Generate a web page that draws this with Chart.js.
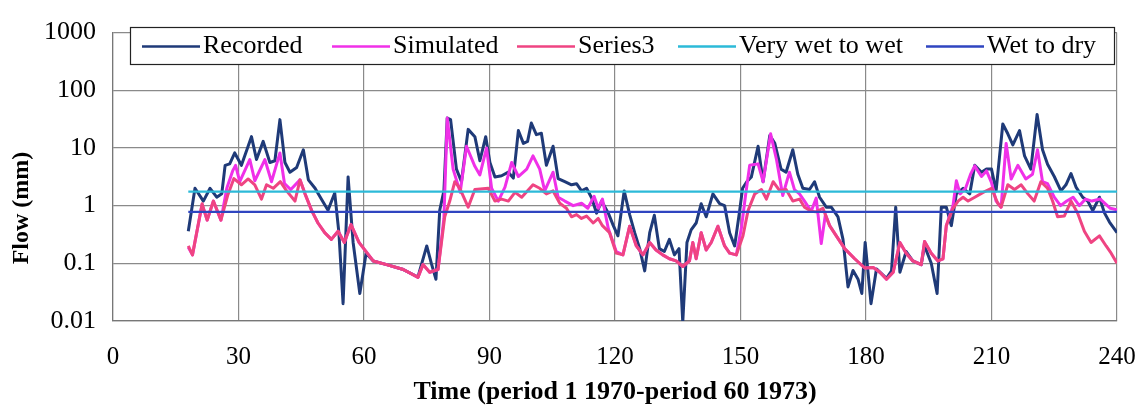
<!DOCTYPE html>
<html>
<head>
<meta charset="utf-8">
<script src="https://cdn.jsdelivr.net/npm/chart.js@4.4.0/dist/chart.umd.min.js"></script>
<style>
  html, body { margin: 0; padding: 0; background: #fff; }
  #wrap { width: 1143px; height: 414px; }
</style>
</head>
<body>
<div id="wrap"><canvas id="flowChart" width="1143" height="414"></canvas></div>
<script>
// Flow series, [time period, flow in mm]
const recorded = [[18,0.36],[19.6,2.0],[21.6,1.2],[23.2,2.0],[24.8,1.4],[26,1.6],[26.8,5],[27.9,5.3],[29.1,8.2],[30.7,5],[33.1,15.7],[34.3,6.3],[35.9,13],[37.5,5.6],[38.7,6],[39.9,31],[41.1,5.6],[42.3,3.8],[43.9,4.6],[45.5,9.3],[46.7,2.8],[48.3,2.0],[49.8,1.3],[51.4,0.83],[53,1.66],[54,0.34],[55,0.02],[56.2,3.15],[57.4,0.23],[59,0.03],[60.5,0.15],[62.2,0.11],[65.4,0.095],[69.4,0.078],[72.9,0.058],[75,0.2],[76.1,0.1],[77.2,0.053],[78.1,0.83],[79.1,1.8],[79.9,33],[80.7,31],[82.1,4.3],[83.3,2.6],[84.9,21],[86.5,15.7],[87.7,6],[89.1,15.7],[90.1,5.6],[91.3,3.15],[92.9,3.3],[94.5,3.8],[95.7,3],[96.9,20],[98.1,12],[99.1,13],[100,27],[101.2,17],[102.4,18],[103.6,5],[105.2,10.7],[106.4,2.95],[108,2.6],[109.6,2.3],[110.8,2.4],[112,1.8],[113.2,2.0],[114.4,1.37],[115.6,0.74],[116.8,1.2],[118.4,0.74],[119.6,0.45],[120.7,0.3],[122.2,1.8],[123.5,0.7],[124.7,0.34],[125.9,0.18],[127.1,0.074],[128.3,0.34],[129.4,0.68],[130.6,0.18],[131.8,0.16],[133,0.26],[134.2,0.14],[135.3,0.18],[136.2,0.0095],[137.2,0.23],[138.2,0.38],[139.4,0.5],[140.6,1.08],[141.8,0.64],[143.4,1.6],[145,1.08],[146.2,1.0],[147.4,0.34],[148.6,0.2],[149.8,0.82],[150.5,2.0],[151.5,2.6],[152.6,3.15],[154.2,10.7],[155.4,2.6],[157,16.5],[158.2,12],[159.7,4.3],[160.9,3.8],[162.5,9.3],[163.7,3.5],[164.9,2.0],[166.5,1.9],[167.7,2.6],[168.9,1.4],[170.5,0.94],[171.7,0.94],[173.3,0.64],[174.5,0.26],[175.7,0.039],[176.9,0.075],[178.1,0.053],[179,0.03],[179.8,0.23],[181.2,0.02],[182.5,0.08],[184.9,0.055],[186.1,0.074],[187.1,0.94],[188.1,0.07],[189.6,0.16],[191.2,0.11],[193.2,0.095],[194,0.2],[195.6,0.1],[197,0.03],[198,0.94],[199.2,0.94],[200.4,0.45],[201.6,1.6],[203.2,2.0],[204.8,1.6],[206,5],[207.6,3.8],[208.8,4.3],[210,4.3],[211.1,1.8],[212.7,26],[213.9,17.6],[215.1,11.3],[216.7,20],[217.9,7.3],[219.4,4.3],[220.9,38],[222.2,9.3],[223.4,5.2],[225,3.2],[226.6,1.8],[227.8,2.3],[229,3.6],[230.2,2.1],[231.8,1.4],[233,1.2],[234.2,0.82],[235.8,1.4],[237,0.75],[238.2,0.52],[240,0.34]];

const simulated = [[18,0.19],[19,0.14],[21.3,1.05],[22.5,0.56],[24,1.2],[25.8,0.56],[27.2,2.0],[28.6,4.0],[29.3,5.0],[30.3,2.6],[32.7,6.3],[33.9,2.7],[36.3,6.3],[37.9,2.6],[39.9,8.2],[41,2.4],[42.5,1.9],[44.7,2.8],[45.9,1.6],[47.5,0.82],[49,0.5],[50.6,0.34],[52.2,0.26],[53.8,0.36],[55.3,0.23],[56.9,0.47],[58.8,0.23],[62.2,0.11],[65.4,0.095],[69.4,0.078],[72.9,0.057],[74.1,0.095],[75.7,0.07],[77.7,0.078],[79.1,0.6],[79.9,33],[81.3,4.3],[83,1.7],[84.5,10.7],[86.5,4.8],[87.7,3.4],[89.3,10],[90.5,2.0],[92.1,1.2],[93.7,2.1],[95.3,5.6],[96.9,3.2],[98.9,4.3],[100.4,7.3],[102,4.3],[103.2,1.8],[105.2,3.8],[106.4,1.4],[108,1.2],[110,1.0],[112,1.1],[113.5,0.9],[115,1.45],[116,0.9],[117,1.3],[118.4,0.4],[120.3,0.16],[121.9,0.14],[123.5,0.44],[125.1,0.2],[126.7,0.14],[128.3,0.23],[129.8,0.17],[131.4,0.14],[133,0.12],[134.6,0.11],[136.2,0.088],[137.8,0.11],[138.6,0.23],[139.4,0.12],[140.6,0.34],[141.8,0.17],[143,0.23],[144.6,0.44],[146.2,0.2],[147.4,0.15],[149,0.14],[150.2,0.4],[151.2,1.5],[152.2,5],[154.2,5.3],[155.4,2.6],[157.2,17.6],[158.6,6.3],[160.1,1.5],[161.7,3.8],[162.9,1.9],[164.1,1.6],[165.3,1.2],[166.9,0.8],[168.1,1.35],[169.3,0.22],[170.3,0.7],[171.3,0.45],[172.9,0.3],[174.9,0.18],[177.3,0.12],[179.7,0.083],[181.7,0.085],[183.3,0.07],[184.9,0.053],[186.5,0.07],[188.1,0.23],[189.6,0.15],[191.2,0.11],[193.2,0.095],[194,0.24],[195.6,0.15],[197.2,0.11],[198.4,0.12],[199.2,0.45],[200.8,1.0],[201.6,2.7],[202.5,1.6],[203.8,2.0],[205,3.5],[206,4.9],[207.6,3.2],[208.8,4.0],[210,2.5],[211.1,1.2],[212.3,0.94],[213.5,12],[214.7,2.9],[216.3,5],[218.2,2.9],[219.8,3.5],[221,9.3],[222.2,2.6],[223.4,2.4],[225,1.4],[226.5,1.0],[228,1.2],[229.5,1.4],[231,1.0],[232.5,1.3],[234,1.2],[236,1.3],[238.4,0.9],[240,0.85]];

const series3 = [[18,0.2],[19,0.14],[21.3,1.08],[22.5,0.56],[24,1.2],[25.8,0.56],[27.4,1.5],[28.9,2.95],[30.7,2.3],[32.3,2.9],[33.9,2.3],[35.5,1.3],[36.7,2.3],[38.3,2.0],[40,2.6],[41.5,1.8],[43.5,1.2],[44.7,2.8],[45.9,1.6],[47.5,0.82],[49,0.5],[50.6,0.34],[52.2,0.26],[53.8,0.36],[55.3,0.23],[56.9,0.47],[58.8,0.23],[62.2,0.11],[65.4,0.095],[69.4,0.078],[72.9,0.057],[74.1,0.095],[75.7,0.07],[77.7,0.078],[79.3,0.64],[80.5,1.2],[81.7,2.6],[82.9,2.0],[84.9,0.94],[86.5,1.9],[89.7,2.0],[91.3,1.2],[92.9,1.3],[94.5,1.2],[96.1,1.7],[97.7,1.4],[100.4,2.3],[102,2.0],[103.6,1.6],[105.2,1.8],[106.8,1.1],[108.4,0.9],[109.6,0.64],[110.8,0.7],[112,0.6],[113.2,0.66],[114.8,0.5],[116,0.6],[117,0.45],[118.7,0.34],[120.3,0.15],[121.9,0.14],[123.5,0.44],[125.1,0.2],[126.7,0.14],[128.3,0.23],[129.8,0.17],[131.4,0.14],[133,0.12],[134.6,0.11],[136.2,0.088],[137.8,0.11],[138.6,0.23],[139.4,0.12],[140.6,0.34],[141.8,0.17],[143,0.23],[144.6,0.44],[146.2,0.2],[147.4,0.15],[149,0.14],[150.6,0.3],[151.8,0.82],[153.4,1.6],[155,1.9],[156.2,1.3],[157.8,2.6],[159.4,1.8],[160.9,1.9],[162.5,1.2],[164.1,1.3],[165.3,0.94],[166.9,0.8],[168.1,0.78],[169.7,0.9],[171.3,0.45],[172.9,0.3],[174.9,0.18],[177.3,0.12],[179.7,0.083],[181.7,0.085],[183.3,0.07],[184.9,0.053],[186.5,0.07],[188.1,0.23],[189.6,0.15],[191.2,0.11],[193.2,0.095],[194,0.24],[195.6,0.15],[197.2,0.11],[198.4,0.12],[199.2,0.45],[200.8,0.9],[202,1.2],[203.2,1.4],[204.4,1.2],[206,1.4],[208,1.7],[210,2.0],[211.5,1.1],[212.3,0.94],[213.9,2.3],[215.5,1.9],[217.1,2.3],[218.7,1.6],[220.2,1.2],[221.8,2.6],[223.4,2.0],[224.6,1.2],[225.8,0.64],[227.4,0.66],[229,1.2],[230.6,0.74],[232.2,0.36],[233.8,0.23],[235.8,0.3],[237.4,0.2],[238.6,0.15],[240,0.1]];

// Wetness class thresholds (mm), drawn over the record period
const thresholdSpan = [18, 240];
const veryWetToWet = 1.75;
const wetToDry = 0.78;

// Axis ticks
const xTicks = [0, 30, 60, 90, 120, 150, 180, 210, 240];
const yTicks = [0.01, 0.1, 1, 10, 100, 1000];

const seriesNames = ['Recorded', 'Simulated', 'Series3', 'Very wet to wet', 'Wet to dry'];
const yAxisTitle = 'Flow (mm)';
const xAxisTitle = 'Time (period 1 1970-period 60 1973)';

const SERIF = "'Liberation Serif', 'Times New Roman', serif";
const toXY = pairs => pairs.map(p => ({ x: p[0], y: p[1] }));
const flat = v => thresholdSpan.map(t => ({ x: t, y: v }));

// Boxed legend drawn inside the top of the plot
const boxedLegend = {
  id: 'boxedLegend',
  afterDraw(chart) {
    const ctx = chart.ctx;
    const box = { l: 130, t: 27, r: 1114, b: 64 };
    ctx.save();
    ctx.fillStyle = '#fff';
    ctx.fillRect(box.l, box.t, box.r - box.l, box.b - box.t);
    ctx.strokeStyle = '#222';
    ctx.lineWidth = 1.2;
    ctx.strokeRect(box.l + 0.5, box.t + 0.5, box.r - box.l, box.b - box.t);
    const starts = [142, 332, 517, 678, 926];
    const midY = (box.t + box.b) / 2 + 1;
    ctx.font = '26px ' + SERIF;
    ctx.textBaseline = 'middle';
    ctx.fillStyle = '#000';
    chart.data.datasets.forEach((ds, i) => {
      const x0 = starts[i];
      ctx.strokeStyle = ds.borderColor;
      ctx.lineWidth = 2.5;
      ctx.beginPath();
      ctx.moveTo(x0, midY);
      ctx.lineTo(x0 + 58, midY);
      ctx.stroke();
      ctx.fillText(ds.label, x0 + 61, midY);
    });
    ctx.restore();
  }
};

// Rotated y-axis title, set a little below the plot's middle
const yTitle = {
  id: 'yTitle',
  afterDraw(chart) {
    const ctx = chart.ctx;
    ctx.save();
    ctx.translate(22, 208);
    ctx.rotate(-Math.PI / 2);
    ctx.font = 'bold 24px ' + SERIF;
    ctx.fillStyle = '#000';
    ctx.textAlign = 'center';
    ctx.textBaseline = 'middle';
    ctx.fillText(yAxisTitle, 0, 0);
    ctx.restore();
  }
};

const whiteBg = {
  id: 'whiteBg',
  beforeDraw(chart) {
    const c = chart.ctx;
    c.save();
    c.fillStyle = '#fff';
    c.fillRect(0, 0, chart.width, chart.height);
    c.restore();
  }
};

new Chart(document.getElementById('flowChart'), {
  type: 'line',
  data: {
    datasets: [
      { label: seriesNames[0], data: toXY(recorded), borderColor: '#1f3a78', borderWidth: 3, order: 5 },
      { label: seriesNames[1], data: toXY(simulated), borderColor: '#f030e8', borderWidth: 3, order: 4 },
      { label: seriesNames[2], data: toXY(series3), borderColor: '#ef4482', borderWidth: 3, order: 3 },
      { label: seriesNames[3], data: flat(veryWetToWet), borderColor: '#2cbad8', borderWidth: 2.4, order: 2 },
      { label: seriesNames[4], data: flat(wetToDry), borderColor: '#2f45c0', borderWidth: 2.4, order: 1 }
    ]
  },
  options: {
    responsive: false,
    animation: false,
    devicePixelRatio: 1,
    layout: { padding: { top: 20, right: 26, left: 0, bottom: 0 } },
    elements: { point: { radius: 0 }, line: { tension: 0, fill: false, borderJoinStyle: 'round' } },
    plugins: { legend: { display: false }, tooltip: { enabled: false } },
    scales: {
      x: {
        type: 'linear',
        min: 0,
        max: 240,
        afterBuildTicks: s => { s.ticks = xTicks.map(v => ({ value: v })); },
        afterFit: s => { s.height = 93; },
        ticks: { color: '#000', font: { family: SERIF, size: 25 }, padding: 6, maxRotation: 0 },
        grid: { color: '#8a8a8a', lineWidth: 1.2, drawTicks: true, tickLength: 15, tickColor: 'rgba(0,0,0,0)' },
        border: { color: '#777', width: 1.2 },
        title: {
          display: true,
          text: xAxisTitle,
          color: '#000',
          font: { family: SERIF, size: 26, weight: 'bold' },
          padding: { top: 0, bottom: 6 }
        }
      },
      y: {
        type: 'logarithmic',
        min: 0.01,
        max: 1000,
        afterBuildTicks: s => { s.ticks = yTicks.map(v => ({ value: v })); },
        afterFit: s => { s.width = 113; },
        ticks: { color: '#000', font: { family: SERIF, size: 26 }, padding: 17, callback: v => String(v) },
        grid: { color: '#8a8a8a', lineWidth: 1.2, drawTicks: false },
        border: { color: '#777', width: 1.2 },
        title: { display: false }
      }
    }
  },
  plugins: [whiteBg, boxedLegend, yTitle]
});
</script>
</body>
</html>
